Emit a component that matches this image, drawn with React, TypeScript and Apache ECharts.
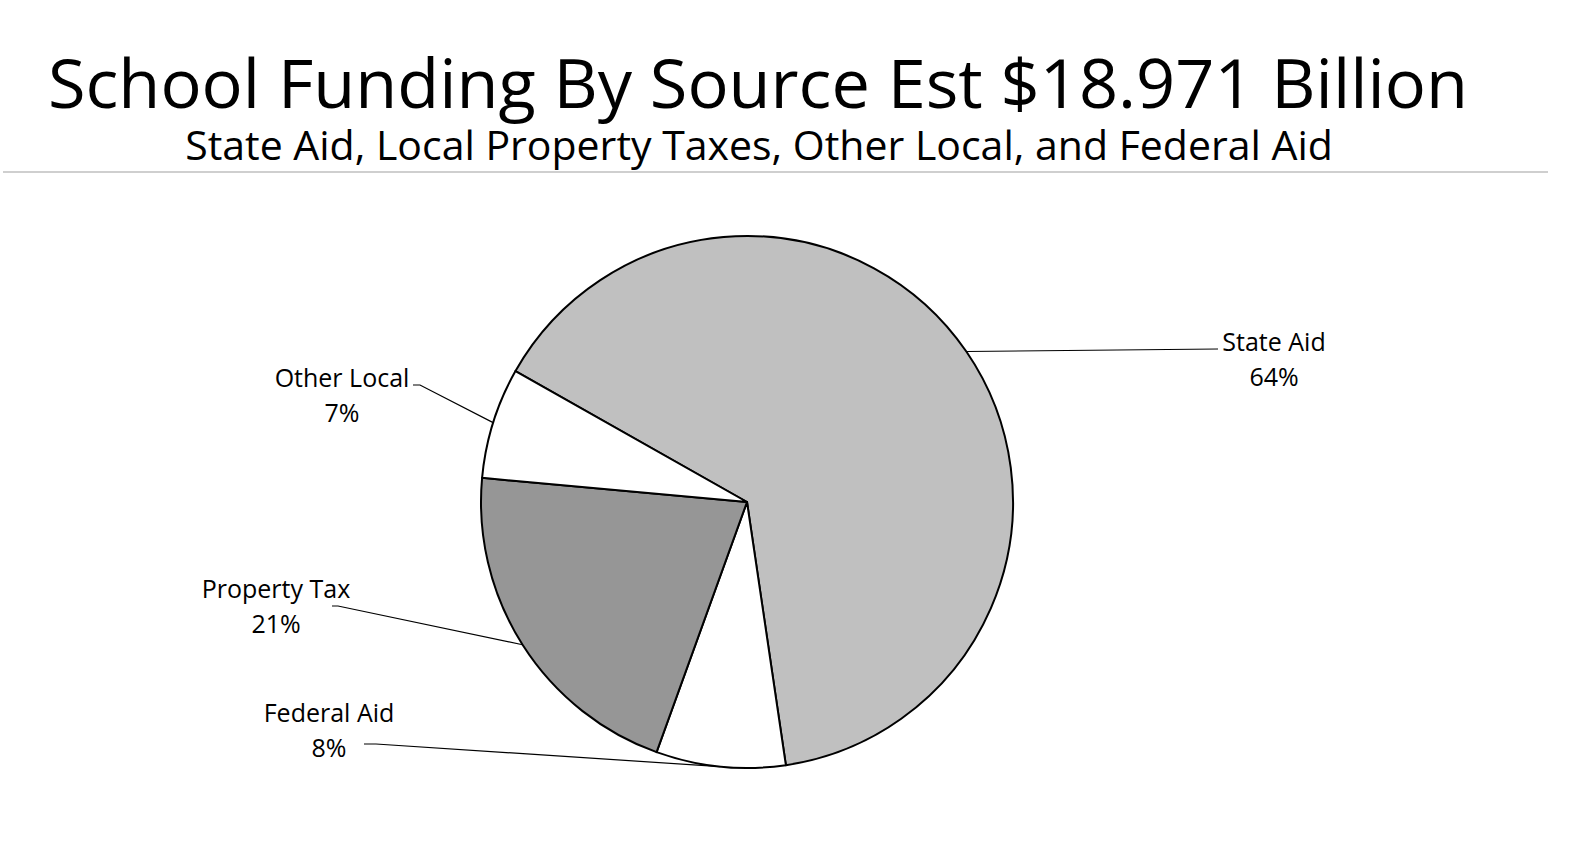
import React, { useEffect, useRef } from "react";
import * as echarts from "echarts";

// ---- data ----
const categories = ["State Aid", "Federal Aid", "Property Tax", "Other Local"];
const valuesBillions = [12.23, 1.49, 3.97, 1.28];
const sliceColors = ["#c0c0c0", "#ffffff", "#969696", "#ffffff"];
const titleText = "School Funding By Source Est $18.971 Billion";
const subtitleText = "State Aid, Local Property Taxes, Other Local, and Federal Aid";

// ---- layout (pixel positions of labels / leader-line elbows) ----
const labelCenters: number[][] = [
  [1274, 358],
  [329, 729.5],
  [276, 605.5],
  [342, 394],
];
const leaderEnds: number[][][] = [
  [[1218, 349]],
  [[376, 744], [364, 744]],
  [[338, 606], [332, 606]],
  [[420, 385], [413, 385]],
];

const FONT = '"Open Sans", "Noto Sans", sans-serif';

export default function App() {
  const ref = useRef<HTMLDivElement>(null);
  useEffect(() => {
    document.body.style.margin = "0";
    if (!ref.current) return;
    const chart = echarts.init(ref.current, undefined, { renderer: "svg" });
    chart.setOption({
      animation: false,
      backgroundColor: "#ffffff",
      graphic: [
        {
          type: "text",
          x: 758,
          y: 81,
          style: {
            text: titleText,
            fontSize: 68.5,
            lineHeight: 68,
            fontFamily: FONT,
            fill: "#000",
            align: "center",
            verticalAlign: "middle",
          },
        },
        {
          type: "text",
          x: 759,
          y: 144,
          style: {
            text: subtitleText,
            fontSize: 41,
            lineHeight: 41,
            fontFamily: FONT,
            fill: "#000",
            align: "center",
            verticalAlign: "middle",
          },
        },
        {
          type: "line",
          shape: { x1: 3, y1: 172, x2: 1548, y2: 172 },
          style: { stroke: "#bfbfbf", lineWidth: 1.5 },
        },
      ],
      series: [
        {
          type: "pie",
          center: [747, 502],
          radius: 266,
          startAngle: 150.5,
          clockwise: true,
          avoidLabelOverlap: false,
          emphasis: { disabled: true },
          data: categories.map((name, i) => ({
            name,
            value: valuesBillions[i],
            itemStyle: { color: sliceColors[i] },
          })),
          itemStyle: { borderColor: "#000", borderWidth: 2 },
          label: {
            show: true,
            position: "outside",
            color: "#000",
            fontSize: 25,
            fontFamily: FONT,
            lineHeight: 35,
            formatter: (p: any) => `${p.name}\n${Math.round(p.percent)}%`,
          },
          labelLine: {
            show: true,
            lineStyle: { color: "#000", width: 1.2 },
          },
          labelLayout: (params: any) => {
            const i = params.dataIndex;
            const pts = params.labelLinePoints;
            const res: any = {
              x: labelCenters[i][0],
              y: labelCenters[i][1],
              align: "center",
              verticalAlign: "middle",
            };
            if (pts && pts.length) {
              res.labelLinePoints = [[pts[0][0], pts[0][1]], ...leaderEnds[i]];
            }
            return res;
          },
        },
      ],
    });
    return () => chart.dispose();
  }, []);
  return <div ref={ref} style={{ width: 1579, height: 865 }} />;
}
